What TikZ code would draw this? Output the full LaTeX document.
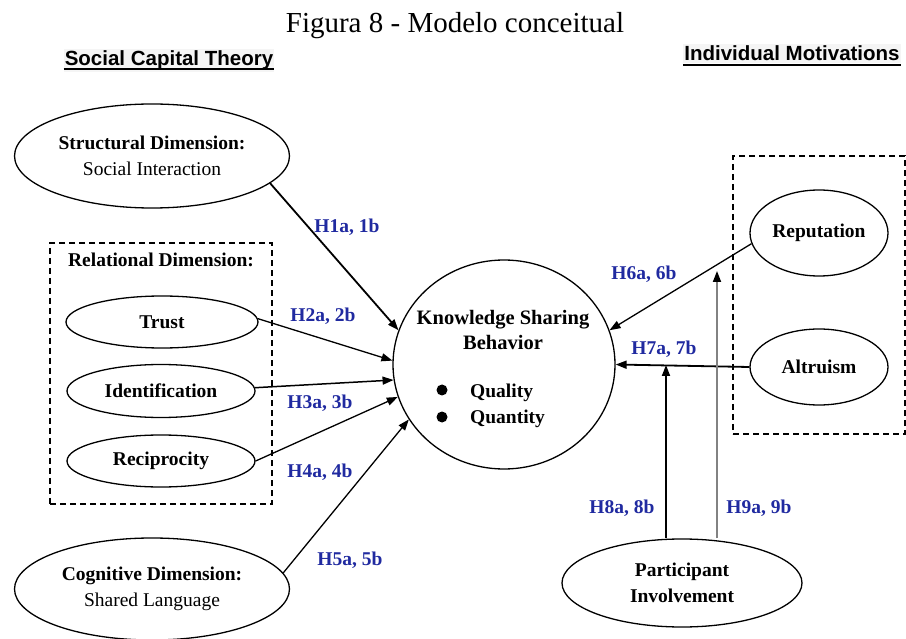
\documentclass[tikz,border=0pt]{standalone}
\usepackage{fontspec}
\setmainfont{Liberation Serif}
\newfontfamily\hdrfont{Liberation Sans}
\usetikzlibrary{arrows.meta,shapes.geometric}
\definecolor{hypblue}{RGB}{32,42,160}
\definecolor{linkgray}{RGB}{130,130,130}
\begin{document}
\begin{tikzpicture}[x=1pt,y=-1pt,
  construct/.style={ellipse, draw, line width=1.3pt, inner sep=0pt, align=center,
    font=\fontsize{19.5}{27}\selectfont\bfseries},
  groupbox/.style={draw, dashed, dash pattern=on 6pt off 4pt, line width=1.1pt, inner sep=0pt},
  heading/.style={font=\hdrfont\fontsize{20.5}{22}\selectfont\bfseries, anchor=base,
    inner xsep=1pt, inner ysep=2pt, fill=black!4},
  hyplabel/.style={font=\fontsize{19.5}{20}\selectfont\bfseries, text=hypblue, anchor=base, inner sep=0pt},
  hyp/.style={-{Triangle[length=11pt,width=8pt,color=black]}, line width=#1},
  hyp/.default=1.3pt,
  plain/.style={font=\fontsize{19.5}{20}\selectfont\bfseries, anchor=base, inner sep=0pt}
]
\useasboundingbox (0,0) rectangle (906,639);

% title and group headings
\node[font=\fontsize{29}{30}\selectfont, anchor=base, inner sep=0pt] (title) at (455,33) {Figura 8 - Modelo conceitual};
\node[heading] (sct) at (169,66) {Social Capital Theory};
\draw[line width=1.8pt] ([yshift=-3pt]sct.base west) -- ([yshift=-3pt]sct.base east);
\node[heading] (imot) at (792,61) {Individual Motivations};
\draw[line width=1.8pt] ([yshift=-4pt]imot.base west) -- ([yshift=-4pt]imot.base east);

% social capital constructs
\node[construct, minimum width=275, minimum height=104] (struct) at (152,156)
  {Structural Dimension:\\[-1pt]\mdseries Social Interaction};
\node[groupbox, minimum width=222, minimum height=261] (relbox) at (161,373.5) {};
\node[plain] (reltitle) at (161,267) {Relational Dimension:};
\node[construct, minimum width=192, minimum height=52] (trust) at (162,322) {Trust};
\node[construct, minimum width=188, minimum height=53] (ident) at (161,391) {Identification};
\node[construct, minimum width=188, minimum height=52] (recip) at (161,461) {Reciprocity};
\node[construct, minimum width=275, minimum height=102] (cogn) at (152,589)
  {Cognitive Dimension:\\[-1pt]\mdseries Shared Language};

% dependent construct
\node[ellipse, draw, line width=1.3pt, inner sep=0pt, minimum width=222, minimum height=209] (ksb) at (504,364.5) {};
\node[plain, font=\fontsize{20.5}{22}\selectfont\bfseries] (ksbA) at (503,325) {Knowledge Sharing};
\node[plain, font=\fontsize{20.5}{22}\selectfont\bfseries] (ksbB) at (503,350) {Behavior};
\node[circle, fill, inner sep=0pt, minimum size=11pt] (bulA) at (442,390) {};
\node[circle, fill, inner sep=0pt, minimum size=11pt] (bulB) at (442,417) {};
\node[plain, anchor=base west] (qual) at (470,397) {Quality};
\node[plain, anchor=base west] (quant) at (470,423) {Quantity};

% individual motivations
\node[groupbox, minimum width=172, minimum height=278] (motbox) at (819,295) {};
\node[construct, minimum width=138, minimum height=86] (rep) at (819,233) {Reputation};
\node[construct, minimum width=138, minimum height=76] (alt) at (819,367) {Altruism};
\node[construct, minimum width=240, minimum height=88] (part) at (682,583) {Participant\\[-1pt]Involvement};

% hypothesised paths
\draw[hyp=1.8pt] (struct.-13) -- (ksb.162);
\draw[hyp] (trust.2) -- (ksb.178);
\draw[hyp=1.5pt] (ident.2) -- (ksb.188.7);
\draw[hyp] (recip.east) -- (ksb.197.8);
\draw[hyp] (cogn.7) -- (ksb.210);
\draw[hyp] (rep.189) -- (ksb.18.7);
\draw[hyp=1.8pt] (alt.west) -- (ksb.east);

% moderating paths from participant involvement
\coordinate (h8) at (666,365);
\coordinate (h9) at (717,271);
\draw[hyp=1.8pt] (h8 |- part.north) -- (h8);
\draw[hyp=1.8pt, draw=linkgray] (h9 |- part.north) -- (h9);

% hypothesis labels
\node[hyplabel] (l1) at (347,233) {H1a, 1b};
\node[hyplabel] (l2) at (323,322) {H2a, 2b};
\node[hyplabel] (l3) at (320,408) {H3a, 3b};
\node[hyplabel] (l4) at (320,477) {H4a, 4b};
\node[hyplabel] (l5) at (350,565) {H5a, 5b};
\node[hyplabel] (l6) at (644,280) {H6a, 6b};
\node[hyplabel] (l7) at (664,355) {H7a, 7b};
\node[hyplabel] (l8) at (622,513) {H8a, 8b};
\node[hyplabel] (l9) at (759,513) {H9a, 9b};
\end{tikzpicture}
\end{document}
